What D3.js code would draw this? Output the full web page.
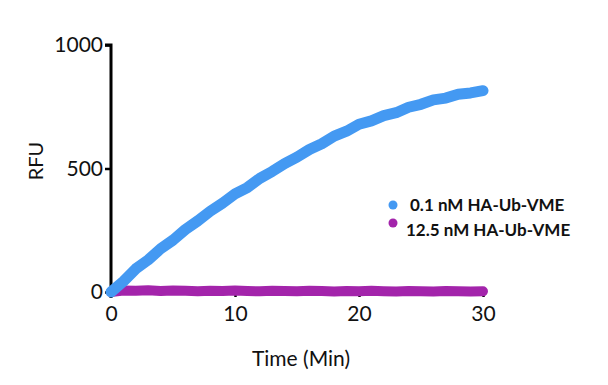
<!DOCTYPE html>
<html>
<head>
<meta charset="utf-8">
<script src="https://cdn.jsdelivr.net/npm/d3@7"></script>
<style>
  body { margin: 0; background: #fff; }
  text { font-family: Lato, "Open Sans", sans-serif; fill: #111; }
</style>
</head>
<body>
<div id="chart"></div>
<script>
// Data
var time_min = [0, 1, 2, 3, 4, 5, 6, 7, 8, 9, 10, 11, 12, 13, 14, 15,
                16, 17, 18, 19, 20, 21, 22, 23, 24, 25, 26, 27, 28, 29, 30];
var rfu_low  = [0, 43, 94, 130, 175, 210, 253, 288, 327, 360, 397, 423, 460, 488, 520, 546,
                577, 600, 631, 651, 679, 693, 714, 726, 748, 760, 778, 785, 801, 806, 815];
var rfu_high = [0, 6, 5, 7, 4, 6, 5, 3, 5, 4, 6, 4, 3, 5, 4, 3,
                5, 4, 2, 4, 3, 5, 3, 2, 4, 3, 2, 4, 3, 2, 3];
var series_names = ["0.1 nM HA-Ub-VME", "12.5 nM HA-Ub-VME"];
var x_ticks = [0, 10, 20, 30];
var y_ticks = [0, 500, 1000];

var chart_width = 608
var chart_height = 385
var colors = ["#4499F2", "#A324AB"];

var svg = d3.select("#chart")
    .append("svg")
    .attr("width", chart_width)
    .attr("height", chart_height);

// Scales
var x_scale = d3.scaleLinear().domain([0, 30]).range([111, 483]);
var y_scale = d3.scaleLinear().domain([0, 1000]).range([292, 45]);

// Axes
var x_axis = d3.axisBottom(x_scale).tickValues(x_ticks).tickSize(5).tickPadding(9)
    .tickFormat(d3.format("d"));
var gx = svg.append("g")
    .attr("transform", "translate(0,292)")
    .call(x_axis);

var y_axis = d3.axisLeft(y_scale).tickValues(y_ticks).tickSize(6).tickPadding(2)
    .tickFormat(d3.format("d"));
var gy = svg.append("g")
    .attr("transform", "translate(111,0)")
    .call(y_axis);

[gx, gy].forEach(function(g){
    g.select(".domain").attr("stroke", "#000").attr("stroke-width", 3);
    g.selectAll(".tick line").attr("stroke", "#000").attr("stroke-width", 2.5);
    g.selectAll(".tick text")
        .style("font-family", "Lato, sans-serif")
        .style("font-size", "21px")
        .attr("fill", "#111");
});
gy.select(".domain").attr("d", "M-6,45H0V298");
gx.select(".domain").attr("d", "M111,0H483");

// Lines
var line = d3.line()
    .x(function(d){ return x_scale(d[0]); })
    .y(function(d){ return y_scale(d[1]); });

var series = [rfu_low, rfu_high];
[1, 0].forEach(function(k){
    svg.append("path")
        .datum(time_min.map(function(t, i){ return [t, series[k][i]]; }))
        .attr("d", line)
        .attr("fill", "none")
        .attr("stroke", colors[k])
        .attr("stroke-width", k == 0 ? 11 : 10)
        .attr("stroke-linecap", "round")
        .attr("stroke-linejoin", "round");
});

// Axis titles
svg.append("text")
    .attr("x", 301)
    .attr("y", 366)
    .attr("text-anchor", "middle")
    .style("font-size", "21px")
    .text("Time (Min)");

svg.append("text")
    .attr("transform", "translate(43,161) rotate(-90)")
    .attr("text-anchor", "middle")
    .style("font-size", "20px")
    .text("RFU");

// Legend
var legend_pos = [[393, 205, 410, 211], [393, 223, 406, 236]];
series_names.forEach(function(name, i){
    var p = legend_pos[i];
    svg.append("circle")
        .attr("cx", p[0]).attr("cy", p[1]).attr("r", 4.5)
        .attr("fill", colors[i]);
    svg.append("text")
        .attr("x", p[2]).attr("y", p[3])
        .style("font-size", "17px")
        .style("font-weight", "bold")
        .text(name);
});
</script>
</body>
</html>
